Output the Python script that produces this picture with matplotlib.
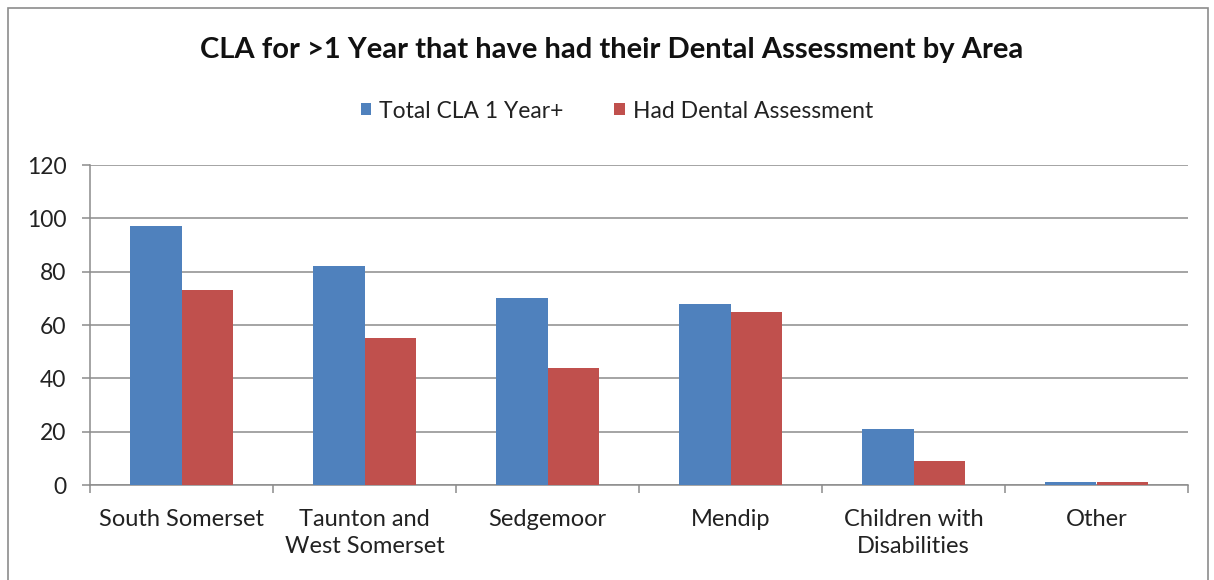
import matplotlib
matplotlib.use("Agg")
import matplotlib.pyplot as plt
import numpy as np
from matplotlib.patches import Rectangle

categories = ["South Somerset", "Taunton and\nWest Somerset", "Sedgemoor", "Mendip",
              "Children with\nDisabilities", "Other"]
total_cla = [97, 82, 70, 68, 21, 1]
had_dental = [73, 55, 44, 65, 9, 1]
series_names = ["Total CLA 1 Year+", "Had Dental Assessment"]
yticks = [0, 20, 40, 60, 80, 100, 120]

plt.rcParams['font.family'] = ['Lato', 'DejaVu Sans']

fig = plt.figure(figsize=(12.14, 5.8), dpi=100)
fig.patch.set_facecolor('white')
fig.patches.append(Rectangle((8/1214, -0.01), 1200/1214, 1 - 8/580 + 0.01,
                             transform=fig.transFigure, fill=False,
                             edgecolor='#8c8c8c', linewidth=1.2))

ax = fig.add_axes([90/1214, 1 - 485/580, (1188 - 90)/1214, (485 - 165)/580])

x = np.arange(len(categories))
w = 0.284
ax.bar(x - w/2, total_cla, width=w, color='#4f81bd', label=series_names[0], zorder=3)
ax.bar(x + w/2, had_dental, width=w, color='#c0504d', label=series_names[1], zorder=3)

ax.set_xlim(-0.5, len(categories) - 0.5)
ax.set_ylim(0, 120)
ax.set_yticks(yticks)
ax.set_yticklabels([str(v) for v in yticks], fontsize=16.5, color='#222222')
ax.yaxis.grid(True, color='#8c8c8c', linewidth=1.1, zorder=0)
ax.set_axisbelow(True)

ax.set_xticks(np.arange(len(categories) + 1) - 0.5)
ax.set_xticklabels([])
ax.set_xticks(x, minor=True)
ax.set_xticklabels(categories, minor=True, fontsize=17, color='#222222', linespacing=1.4)
ax.tick_params(axis='x', which='minor', length=0, pad=17)
ax.tick_params(axis='x', which='major', length=6, color='#8c8c8c', width=1.1)
ax.tick_params(axis='y', length=6, color='#8c8c8c', width=1.1, pad=11)

for s in ['top', 'right']:
    ax.spines[s].set_visible(False)
for s in ['left', 'bottom']:
    ax.spines[s].set_color('#8c8c8c')
    ax.spines[s].set_linewidth(1.1)

fig.text(612/1214, 1 - 50/580, "CLA for >1 Year that have had their Dental Assessment by Area",
         ha='center', va='center', fontsize=21, fontweight='bold', color='#111111')

leg = fig.legend(loc='center', bbox_to_anchor=(617/1214, 1 - 111/580), ncol=2,
                 frameon=False, fontsize=16.5, handlelength=0.45, handleheight=0.45,
                 handletextpad=0.35, columnspacing=2.2)
for t in leg.get_texts():
    t.set_color('#222222')

fig.savefig("out.png", dpi=100, facecolor='white')
